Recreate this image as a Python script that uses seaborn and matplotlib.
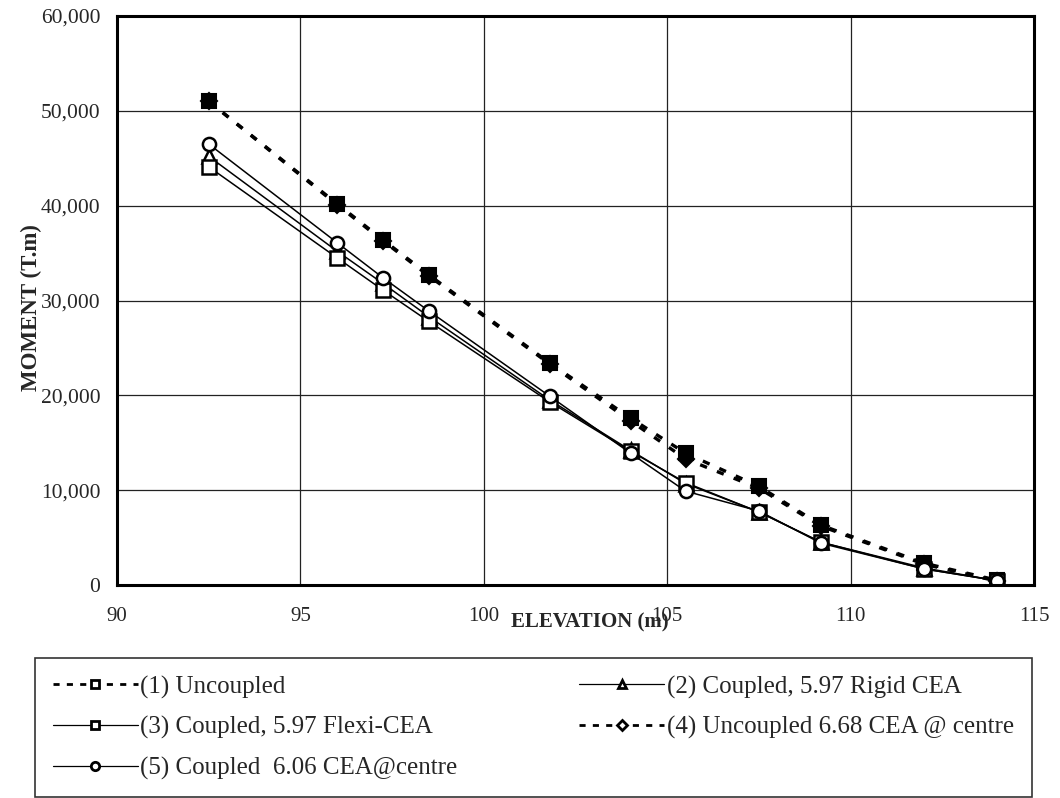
import numpy as np
import pandas as pd
import matplotlib
matplotlib.use("Agg")
import matplotlib.pyplot as plt
from matplotlib.lines import Line2D
from matplotlib.ticker import FuncFormatter
import seaborn as sns

elevation = [92.5, 96.0, 97.25, 98.5, 101.8, 104.0, 105.5, 107.5, 109.2, 112.0, 114.0]
uncoupled = [51000, 40200, 36400, 32700, 23400, 17600, 13900, 10400, 6300, 2300, 500]
rigid_cea = [45200, 35200, 31800, 28300, 19500, 14200, 10700, 7700, 4500, 1800, 450]
flexi_cea = [44100, 34500, 31100, 27800, 19300, 14100, 10800, 7700, 4500, 1700, 450]
uncoupled_668 = [51000, 40100, 36300, 32600, 23300, 17300, 13300, 10200, 6200, 2200, 400]
coupled_606 = [46500, 36100, 32400, 28900, 19900, 13900, 9900, 7800, 4400, 1700, 450]

labels = ["(1) Uncoupled",
          "(2) Coupled, 5.97 Rigid CEA",
          "(3) Coupled, 5.97 Flexi-CEA",
          "(4) Uncoupled 6.68 CEA @ centre",
          "(5) Coupled  6.06 CEA@centre"]
series = [uncoupled, rigid_cea, flexi_cea, uncoupled_668, coupled_606]

sns.set_style("white")
plt.rcParams['font.family'] = ['Liberation Serif', 'DejaVu Serif']

fig = plt.figure(figsize=(10.6, 7.98), dpi=100)
ax = fig.add_axes([117/1060, 1-585/798, (1034-117)/1060, (585-16)/798])

# plot styles: (marker, dashed, filled)
styles = [("s", True, True), ("^", False, False), ("s", False, False),
          ("D", True, True), ("o", False, False)]

for vals, lab, (mk, dashed, filled) in zip(series, labels, styles):
    kw = dict(color="black", marker=mk, markeredgecolor="black",
              markerfacecolor="black" if filled else "white")
    if dashed:
        kw.update(linewidth=2.4, dashes=(2.2, 3.2), markersize=9.5 if mk == "s" else 8.5,
                  markeredgewidth=1.5)
    else:
        kw.update(linewidth=1.1, markersize=9.5, markeredgewidth=1.8)
    sns.lineplot(x=elevation, y=vals, ax=ax, label=lab, legend=False, **kw)

ax.set_xlim(90, 115)
ax.set_ylim(0, 60000)
ax.set_xticks([90, 95, 100, 105, 110, 115])
ax.set_yticks(np.arange(0, 60001, 10000))
ax.yaxis.set_major_formatter(FuncFormatter(lambda v, p: f"{int(v):,}"))
ax.grid(True, color="#222222", linewidth=0.9)
for s in ax.spines.values():
    s.set_color("black")
    s.set_linewidth(2.2)
ax.tick_params(axis="both", direction="out", length=5, width=1, color="black")
ax.tick_params(axis="y", labelsize=15.5, pad=7)
ax.tick_params(axis="x", labelsize=15, pad=11)

ax.set_ylabel("MOMENT (T.m)", fontsize=16.5, fontweight="bold")
ax.yaxis.set_label_coords(-0.082, 0.487)
ax.set_xlabel("ELEVATION (m)", fontsize=15, fontweight="bold")
ax.xaxis.set_label_coords(0.516, -0.065)
ax.xaxis.label.set_verticalalignment("center")

# legend with small hollow markers, column order 1,3,5 | 2,4
handles = []
for (mk, dashed, filled) in styles:
    handles.append(Line2D([], [], color="black", marker=mk, markersize=6 if mk != "D" else 5,
                          markerfacecolor="white", markeredgewidth=2,
                          linestyle=(0, (2.2, 2.6)) if dashed else "-",
                          linewidth=2 if dashed else 0.9))
order = [0, 2, 4, 1, 3]
leg = fig.legend([handles[i] for i in order], [labels[i] for i in order],
                 loc="upper left", bbox_to_anchor=(35/1060, -0.1, (1032-35)/1060, 1-658/798+0.1),
                 bbox_transform=fig.transFigure, ncol=2, mode="expand",
                 fontsize=18, handlelength=3.4, handletextpad=0.12,
                 labelspacing=0.7, borderaxespad=0, frameon=True, fancybox=False,
                 borderpad=0.7)
leg.get_frame().set_edgecolor("black")
leg.get_frame().set_linewidth(1.2)

fig.savefig("out.png", dpi=100)
